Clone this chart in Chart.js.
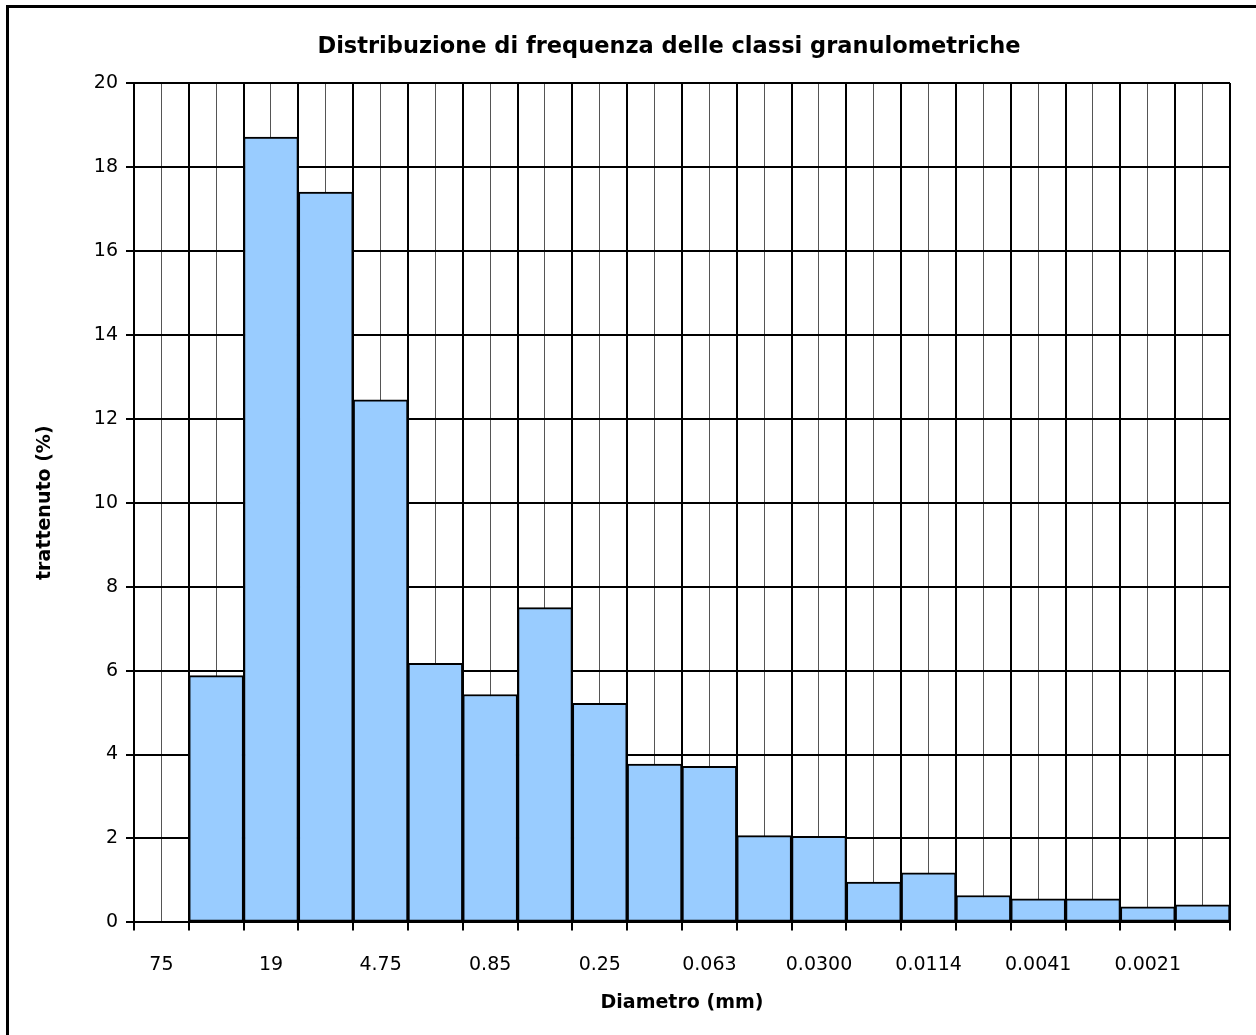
<!DOCTYPE html>
<html>
<head>
	<title>Distribuzione di frequenza delle classi granulometriche</title>
	<script src="https://cdn.jsdelivr.net/npm/chart.js"></script>
	<style>
		html, body { margin: 0; padding: 0; background: #fff; overflow: hidden; }
		#box {
			position: absolute; left: 0; top: 0; width: 1256px; height: 1035px;
		}
		#cornice {
			position: absolute; left: 6px; top: 5px; width: 1300px; height: 1100px;
			border: 3px solid #000; pointer-events: none;
		}
	</style>
</head>
<body>

	<div id="box"><canvas id="grafico"></canvas></div>
	<div id="cornice"></div>

	<script>
		// classi granulometriche (solo una etichetta ogni due viene mostrata)
		var classi = ['75', '', '19', '', '4.75', '', '0.85', '', '0.25', '',
			'0.063', '', '0.0300', '', '0.0114', '', '0.0041', '', '0.0021', ''];
		// trattenuto (%)
		var trattenuto = [0, 5.88, 18.71, 17.4, 12.45, 6.17, 5.43, 7.5, 5.22, 3.77,
			3.72, 2.07, 2.05, 0.96, 1.18, 0.64, 0.56, 0.56, 0.37, 0.42];
		var yTicks = { min: 0, max: 20, step: 2 };

		var font = "'DejaVu Sans', sans-serif";
		Chart.defaults.font.family = font;
		Chart.defaults.color = '#000';

		// il titolo nell'originale e' centrato sull'intera area, non sul grafico
		var spostaTitolo = {
			id: 'spostaTitolo',
			afterLayout: function (chart) {
				if (chart.titleBlock) {
					chart.titleBlock.left = 82;
					chart.titleBlock.right = 1256;
				}
			}
		};

		var ctx = document.getElementById('grafico').getContext('2d');
		var chart = new Chart(ctx, {
			type: 'bar',
			data: {
				labels: classi,
				datasets: [{
					label: 'trattenuto (%)',
					data: trattenuto,
					backgroundColor: '#99ccff',
					borderColor: '#000',
					borderWidth: 2,
					borderSkipped: false,
					categoryPercentage: 1,
					barPercentage: 1,
					xAxisID: 'x'
				}]
			},
			plugins: [spostaTitolo],
			options: {
				responsive: true,
				maintainAspectRatio: false,
				animation: false,
				layout: { padding: { left: 30, right: 26, top: 18, bottom: 21 } },
				plugins: {
					legend: { display: false },
					tooltip: { enabled: false },
					title: {
						display: true,
						text: 'Distribuzione di frequenza delle classi granulometriche',
						font: { size: 22.5, weight: 'bold' },
						padding: { top: 16, bottom: 22 }
					}
				},
				scales: {
					x: {
						type: 'category',
						position: 'bottom',
						offset: true,
						grid: { offset: true, color: '#000', lineWidth: 2, tickLength: 8, tickColor: '#000' },
						border: { color: '#000', width: 2 },
						ticks: { autoSkip: false, maxRotation: 0, font: { size: 19 }, padding: 23 },
						title: { display: true, text: 'Diametro (mm)', font: { size: 19, weight: 'bold' }, padding: { top: -8, bottom: 0 } }
					},
					// griglia secondaria al centro di ogni classe
					x2: {
						type: 'category',
						position: 'bottom',
						offset: true,
						grid: { offset: false, color: '#555', lineWidth: 1, drawTicks: false },
						border: { display: false },
						ticks: { display: false },
						afterFit: function (scale) { scale.height = 0; }
					},
					y: {
						min: yTicks.min,
						max: yTicks.max,
						ticks: { stepSize: yTicks.step, font: { size: 19 }, padding: 8 },
						grid: { color: '#000', lineWidth: 2, tickLength: 8, tickColor: '#000' },
						border: { color: '#000', width: 2 },
						title: { display: true, text: 'trattenuto (%)', font: { size: 19, weight: 'bold' }, padding: { bottom: 29 } }
					}
				}
			}
		});
	</script>

</body>
</html>
